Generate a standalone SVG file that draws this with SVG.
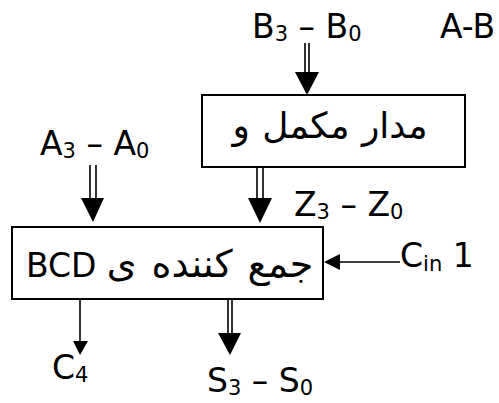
<svg xmlns="http://www.w3.org/2000/svg" width="499" height="403" viewBox="0 0 499 403">
<style>
text{font-family:"DejaVu Sans","Liberation Sans",sans-serif;font-size:33px;fill:#000}
text.fa1{font-size:36px;word-spacing:1px}
text.fa2{font-size:38px;word-spacing:3px}
.sub{font-size:21px}
.box{fill:#fff;stroke:#000;stroke-width:2}
.ln{stroke:#000;stroke-width:1.6;fill:none}
.hd{fill:#000}
</style>
<g id="labels">
<text x="252" y="38">B<tspan class="sub" dy="3">3</tspan><tspan dy="-3"> – B</tspan><tspan class="sub" dy="3">0</tspan></text>
<text x="440" y="38">A-B</text>
<text x="40" y="155">A<tspan class="sub" dy="3">3</tspan><tspan dy="-3"> – A</tspan><tspan class="sub" dy="3">0</tspan></text>
<text x="294" y="216">Z<tspan class="sub" dy="3">3</tspan><tspan dy="-3"> – Z</tspan><tspan class="sub" dy="3">0</tspan></text>
<text x="400" y="267">C<tspan class="sub" dy="4">in</tspan><tspan dy="-4"> 1</tspan></text>
<text x="52" y="379">C<tspan class="sub" dy="3">4</tspan></text>
<text x="207" y="392">S<tspan class="sub" dy="3">3</tspan><tspan dy="-3"> – S</tspan><tspan class="sub" dy="3">0</tspan></text>
</g>
<g id="node-complement">
<rect class="box" x="202" y="95" width="263" height="72"/>
<text class="fa1" x="330" y="138" text-anchor="middle" direction="rtl">مدار مکمل و</text>
</g>
<g id="node-bcd">
<rect class="box" x="12" y="227" width="311" height="72"/>
<text x="26" y="277">BCD</text>
<text class="fa2" x="210" y="277" text-anchor="middle" direction="rtl">جمع کننده ی</text>
</g>
<g id="connectors">
<path class="ln" d="M305 43V73M309 43V73"/>
<path class="hd" d="M295 72H319L307 95Z"/>
<path class="ln" d="M90 165V199M96 165V199"/>
<path class="hd" d="M81 198H104L93 222Z"/>
<path class="ln" d="M257 167V199M263 167V199"/>
<path class="hd" d="M248 198H272L260 223Z"/>
<path class="ln" d="M400 262H338"/>
<path class="hd" d="M340 254V270L324 262Z"/>
<path class="ln" d="M80 299V342"/>
<path class="hd" d="M73 341H88L80 355Z"/>
<path class="ln" d="M228 299V334M232 299V334"/>
<path class="hd" d="M218 333H241L230 355Z"/>
</g>
</svg>
